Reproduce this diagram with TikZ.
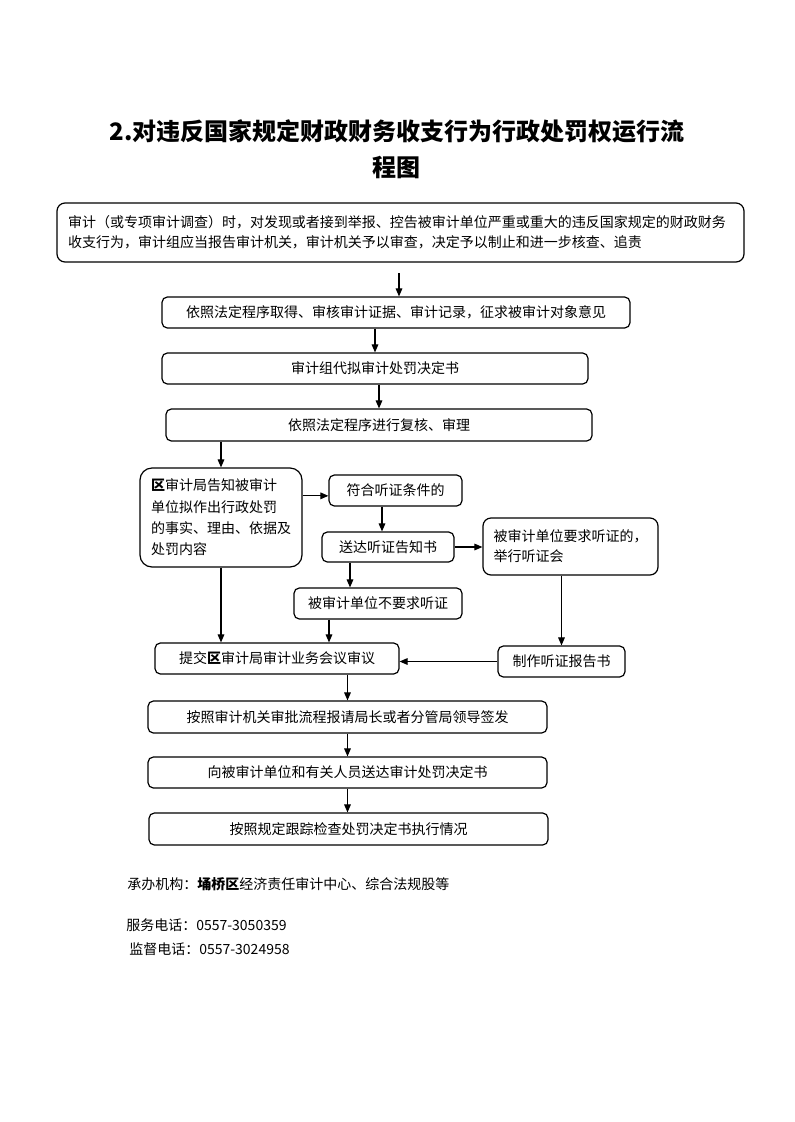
\documentclass[tikz,border=0pt]{standalone}
\usepackage{fontspec}
\setmainfont{Noto Sans CJK SC}
\usetikzlibrary{arrows.meta, positioning}

\begin{document}
\begin{tikzpicture}[x=0.75pt,y=-0.75pt,
    box/.style={draw,line width=0.9pt,rounded corners=4pt,inner sep=0pt,
        minimum height=23.25pt,font=\fontsize{10.5pt}{15pt}\selectfont},
    arr/.style={line width=0.8pt,-{Triangle[length=6pt,width=5pt]}},
    note/.style={anchor=west,inner sep=0pt,font=\fontsize{10.5pt}{15pt}\selectfont}]
    \useasboundingbox (0,0) rectangle (794,1122);
    % title
    \node[font=\bfseries\fontsize{18pt}{27pt}\selectfont,align=center] (title) at (397,149)
        {2.对违反国家规定财政财务收支行为行政处罚权运行流\\程图};
    %
    \node[box,rounded corners=6pt,minimum width=515.25pt,minimum height=44.25pt,
        text width=498.75pt,align=left] (start) at (400.5,232.5)
        {审计（或专项审计调查）时，对发现或者接到举报、控告被审计单位严重或重大的违反国家规定的财政财务\\收支行为，审计组应当报告审计机关，审计机关予以审查，决定予以制止和进一步核查、追责};
    \coordinate (gap) at (399,273);
    \node[box,minimum width=351pt] (gather) at (396,312.5)
        {依照法定程序取得、审核审计证据、审计记录，征求被审计对象意见};
    \node[box,minimum width=319.5pt] (draft) at (375,368.5) {审计组代拟审计处罚决定书};
    \node[box,minimum width=319.5pt,minimum height=24pt] (review) at (379,425)
        {依照法定程序进行复核、审理};
    % hearing part
    \node[box,rounded corners=9pt,minimum width=121.5pt,minimum height=74.25pt,
        text width=105pt,align=left,font=\fontsize{10.5pt}{16pt}\selectfont] (notify) at (221,517.5)
        {\textbf{区}审计局告知被审计\\单位拟作出行政处罚\\的事实、理由、依据及\\处罚内容};
    \node[box,minimum width=99.75pt] (eligible) at (395.5,490.5) {符合听证条件的};
    \coordinate (elin) at ([yshift=-4pt]eligible.west);
    \node[box,minimum width=99pt,minimum height=22.5pt] (sendnote) at (388,547) {送达听证告知书};
    \node[box,rounded corners=6pt,minimum width=131.25pt,minimum height=42.75pt,
        align=left] (request) at (570.5,546.5) {被审计单位要求听证的，\\举行听证会};
    \node[box,minimum width=126pt] (noreq) at (378,603.5) {被审计单位不要求听证};
    \node[box,minimum width=183pt] (submit) at (277,658.5) {提交\textbf{区}审计局审计业务会议审议};
    \node[box,minimum width=95.25pt] (report) at (561.5,661.5) {制作听证报告书};
    % last steps
    \node[box,minimum width=299.25pt,minimum height=24pt] (sign) at (347.5,717)
        {按照审计机关审批流程报请局长或者分管局领导签发};
    \node[box,minimum width=299.25pt] (deliver) at (347.5,772.5)
        {向被审计单位和有关人员送达审计处罚决定书};
    \node[box,minimum width=299.25pt,minimum height=24pt] (track) at (348.5,829)
        {按照规定跟踪检查处罚决定书执行情况};
    % arrows
    \draw[arr] (gap) -- (gap |- gather.north);
    \draw[arr] (draft.north |- gather.south) -- (draft.north);
    \draw[arr] (review.north |- draft.south) -- (review.north);
    \draw[arr] (notify.north |- review.south) -- (notify.north);
    \draw[arr] (notify.east |- elin) -- (elin);
    \draw[arr] ([xshift=-4.5pt]sendnote.north |- eligible.south) -- ([xshift=-4.5pt]sendnote.north);
    \draw[arr] (sendnote.east) -- (sendnote.east -| request.west);
    \draw[arr] ([xshift=-21pt]noreq.north |- sendnote.south) -- ([xshift=-21pt]noreq.north);
    \draw[arr] ([xshift=-36.75pt]noreq.south) -- ([xshift=-36.75pt]noreq.south |- submit.north);
    \draw[arr] (notify.south) -- (notify.south |- submit.north);
    \draw[arr] (report.north |- request.south) -- (report.north);
    \draw[arr] (report.west) -- (report.west -| submit.east);
    \draw[arr] (sign.north |- submit.south) -- (sign.north);
    \draw[arr] (sign.south) -- (deliver.north);
    \draw[arr] (deliver.south) -- (deliver.south |- track.north);
    % footer
    \node[note] (org) at (127,884) {承办机构：\textbf{埇桥区}经济责任审计中心、综合法规股等};
    \node[note] (tel1) at (126,925) {服务电话：0557-3050359};
    \node[note] (tel2) at (129,949) {监督电话：0557-3024958};
\end{tikzpicture}
\end{document}
